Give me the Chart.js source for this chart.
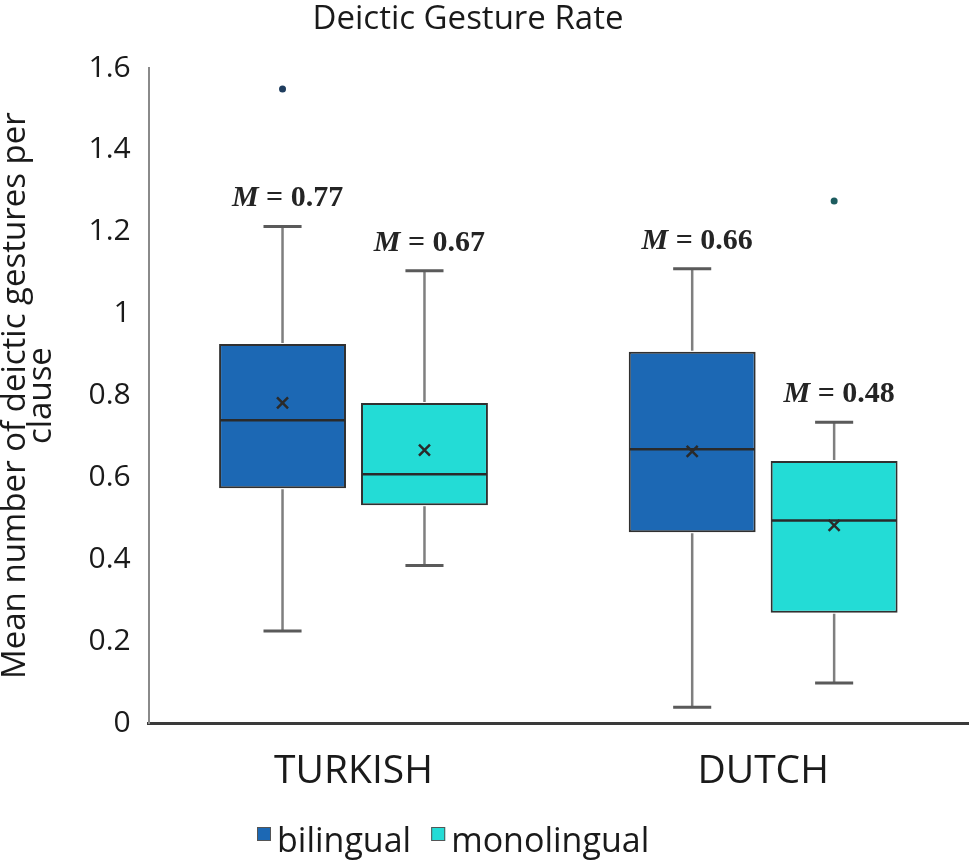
<!DOCTYPE html>
<html>
<head>
<meta charset="utf-8">
<title>Deictic Gesture Rate</title>
<script src="https://cdn.jsdelivr.net/npm/chart.js@4.4.0/dist/chart.umd.min.js"></script>
<style>
  html, body { margin: 0; padding: 0; background: #fff; }
  #wrap { width: 975px; height: 865px; }
</style>
</head>
<body>
<div id="wrap"><canvas id="chart"></canvas></div>
<script>
// Data
const groups = ['TURKISH', 'DUTCH'];
const seriesNames = ['bilingual', 'monolingual'];

const bilingualMin = [0.225, 0.039];
const bilingualQ1 = [0.574, 0.466];
const bilingualMedian = [0.740, 0.669];
const bilingualQ3 = [0.926, 0.907];
const bilingualMax = [1.213, 1.110];
const bilingualMean = [0.782, 0.664];
const bilingualOutliers = [[1.549], []];
const bilingualMeanLabels = ['0.77', '0.66'];

const monoMin = [0.385, 0.098];
const monoQ1 = [0.532, 0.270];
const monoMedian = [0.608, 0.495];
const monoQ3 = [0.782, 0.640];
const monoMax = [1.105, 0.735];
const monoMean = [0.667, 0.483];
const monoOutliers = [[], [1.275]];
const monoMeanLabels = ['0.67', '0.48'];

const yMin = 0;
const yMax = 1.6;
const yStep = 0.2;

const TEXT = '#1a1a1a';

/**
 * Build one box dataset from its summary arrays
 */
function boxDataset(label, color, outlierColor, mins, q1s, medians, q3s, maxs, means, outliers, meanLabels) {
  return {
    label: label,
    data: groups.map((g, i) => [q1s[i], q3s[i]]),
    backgroundColor: color,
    borderColor: '#303030',
    borderWidth: 2,
    borderSkipped: false,
    categoryPercentage: 0.693,
    barPercentage: 0.894,
    // extra box-plot values, used by the plugin below
    stats: { mins, medians, maxs, means, outliers, meanLabels },
    outlierColor: outlierColor
  };
}

// Whiskers, medians, means, outliers and the M = labels
const boxPlotPlugin = {
  id: 'boxPlot',
  afterDatasetsDraw(chart) {
    const ctx = chart.ctx;
    const yScale = chart.scales.y;
    chart.data.datasets.forEach((ds, i) => {
      const meta = chart.getDatasetMeta(i);
      const s = ds.stats;
      meta.data.forEach((bar, j) => {
        const x = bar.x;
        const w = bar.width;
        const q1 = ds.data[j][0];
        const q3 = ds.data[j][1];
        ctx.save();

        // whisker stems
        ctx.strokeStyle = '#7f7f7f';
        ctx.lineWidth = 2.5;
        ctx.beginPath();
        ctx.moveTo(x, yScale.getPixelForValue(q3) - 1);
        ctx.lineTo(x, yScale.getPixelForValue(s.maxs[j]));
        ctx.moveTo(x, yScale.getPixelForValue(q1) + 1);
        ctx.lineTo(x, yScale.getPixelForValue(s.mins[j]));
        ctx.stroke();

        // whisker caps
        const cap = w * 0.3;
        ctx.strokeStyle = '#5a5a5a';
        ctx.lineWidth = 3;
        ctx.beginPath();
        [s.maxs[j], s.mins[j]].forEach(v => {
          const py = yScale.getPixelForValue(v);
          ctx.moveTo(x - cap / 2, py);
          ctx.lineTo(x + cap / 2, py);
        });
        ctx.stroke();

        // median
        const my = yScale.getPixelForValue(s.medians[j]);
        ctx.strokeStyle = '#2a2a2a';
        ctx.lineWidth = 2.5;
        ctx.beginPath();
        ctx.moveTo(bar.x - w / 2 + 1, my);
        ctx.lineTo(bar.x + w / 2 - 1, my);
        ctx.stroke();

        // mean marker
        const ay = yScale.getPixelForValue(s.means[j]);
        const r = 5.5;
        ctx.strokeStyle = '#2a2a2a';
        ctx.lineWidth = 2.5;
        ctx.beginPath();
        ctx.moveTo(x - r, ay - r);
        ctx.lineTo(x + r, ay + r);
        ctx.moveTo(x + r, ay - r);
        ctx.lineTo(x - r, ay + r);
        ctx.stroke();

        // outliers
        ctx.fillStyle = ds.outlierColor;
        s.outliers[j].forEach(v => {
          ctx.beginPath();
          ctx.arc(x, yScale.getPixelForValue(v), 3.5, 0, Math.PI * 2);
          ctx.fill();
        });

        // mean label above the upper whisker
        const ly = yScale.getPixelForValue(s.maxs[j]) - 20;
        const italic = 'italic bold 30px "Liberation Serif", "DejaVu Serif", serif';
        const plain = 'bold 30px "Liberation Serif", "DejaVu Serif", serif';
        const rest = ' = ' + s.meanLabels[j];
        ctx.font = italic;
        const wm = ctx.measureText('M').width;
        ctx.font = plain;
        const wr = ctx.measureText(rest).width;
        const lx = x + 5 - (wm + wr) / 2;
        ctx.fillStyle = '#242424';
        ctx.textBaseline = 'alphabetic';
        ctx.textAlign = 'left';
        ctx.font = italic;
        ctx.fillText('M', lx, ly);
        ctx.font = plain;
        ctx.fillText(rest, lx + wm, ly);

        ctx.restore();
      });
    });
  },
  afterDraw(chart) {
    const ctx = chart.ctx;
    ctx.save();
    // chart title
    ctx.fillStyle = TEXT;
    ctx.font = '33px "Open Sans", sans-serif';
    ctx.textAlign = 'center';
    ctx.textBaseline = 'alphabetic';
    ctx.fillText('Deictic Gesture Rate', 468, 29);

    // legend
    ctx.font = '34px "Open Sans", sans-serif';
    ctx.textAlign = 'left';
    let lx = 257;
    const ly = 834;
    chart.data.datasets.forEach(ds => {
      ctx.fillStyle = ds.backgroundColor;
      ctx.fillRect(lx, ly - 7, 14, 14);
      ctx.strokeStyle = '#555';
      ctx.lineWidth = 1;
      ctx.strokeRect(lx + 0.5, ly - 6.5, 13, 13);
      lx += 20;
      ctx.fillStyle = TEXT;
      ctx.fillText(ds.label, lx, ly + 18);
      lx += ctx.measureText(ds.label).width + 20;
    });
    ctx.restore();
  }
};

const datasets = [
  boxDataset(seriesNames[0], '#1c68b4', '#1f3d5e',
    bilingualMin, bilingualQ1, bilingualMedian, bilingualQ3, bilingualMax,
    bilingualMean, bilingualOutliers, bilingualMeanLabels),
  boxDataset(seriesNames[1], '#23dcd6', '#1d5c5f',
    monoMin, monoQ1, monoMedian, monoQ3, monoMax,
    monoMean, monoOutliers, monoMeanLabels)
];

new Chart(document.getElementById('chart'), {
  type: 'bar',
  data: { labels: groups, datasets: datasets },
  plugins: [boxPlotPlugin],
  options: {
    responsive: true,
    maintainAspectRatio: false,
    animation: false,
    events: [],
    layout: { padding: { top: 68, right: 7, bottom: 53, left: 0 } },
    plugins: {
      legend: { display: false },
      title: { display: false },
      tooltip: { enabled: false }
    },
    scales: {
      x: {
        grid: { display: false },
        border: { display: true, color: '#3a3a3a', width: 3 },
        ticks: {
          color: TEXT,
          padding: 17,
          font: { family: 'Open Sans', size: 39 }
        }
      },
      y: {
        min: yMin,
        max: yMax,
        grid: { display: false },
        border: { display: true, color: '#8a8a8a', width: 2 },
        ticks: {
          stepSize: yStep,
          color: TEXT,
          padding: 10,
          font: { family: 'Open Sans', size: 30 },
          callback: value => String(Number(value.toFixed(1)))
        },
        title: {
          display: true,
          text: ['Mean number of deictic gestures per', 'clause'],
          color: TEXT,
          padding: { top: 3, bottom: 24 },
          font: { family: 'Open Sans', size: 33, lineHeight: 0.78 }
        }
      }
    }
  }
});
</script>
</body>
</html>
